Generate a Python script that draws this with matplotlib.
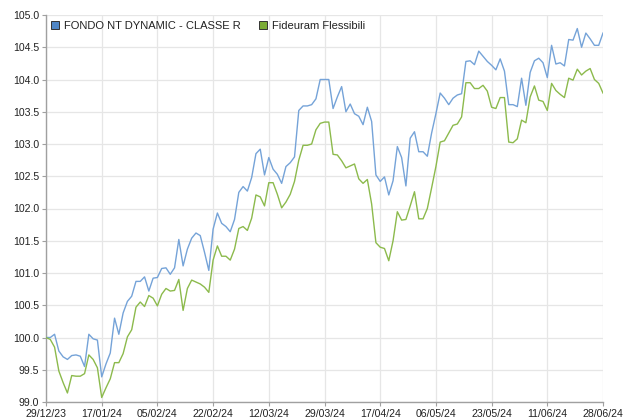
import matplotlib.pyplot as plt
from matplotlib.lines import Line2D
import numpy as np
import pandas as pd

plt.rcParams['font.family'] = ['Liberation Sans', 'DejaVu Sans']

# weekday dates of the series
dates = pd.bdate_range('2023-12-29', '2024-06-28')

fondo_nt = [100.00, 100.00, 100.05, 99.79, 99.70, 99.66, 99.72, 99.73, 99.71, 99.55,
            100.05, 99.98, 99.96, 99.39, 99.59, 99.76, 100.30, 100.05, 100.38, 100.56,
            100.64, 100.87, 100.87, 100.94, 100.72, 100.92, 100.93, 101.07, 101.08, 100.98,
            101.08, 101.52, 101.11, 101.37, 101.54, 101.62, 101.58, 101.32, 101.04, 101.68,
            101.93, 101.77, 101.72, 101.64, 101.83, 102.25, 102.34, 102.27, 102.48, 102.85,
            102.92, 102.52, 102.79, 102.61, 102.53, 102.39, 102.65, 102.71, 102.80, 103.52,
            103.59, 103.59, 103.61, 103.70, 104.00, 104.00, 104.00, 103.55, 103.73, 103.89,
            103.50, 103.62, 103.47, 103.43, 103.30, 103.57, 103.35, 102.52, 102.42, 102.49,
            102.21, 102.43, 102.96, 102.79, 102.35, 103.09, 103.19, 102.88, 102.88, 102.81,
            103.17, 103.47, 103.79, 103.71, 103.61, 103.71, 103.76, 103.78, 104.28, 104.29,
            104.23, 104.44, 104.36, 104.28, 104.22, 104.15, 104.32, 104.13, 103.61, 103.61,
            103.58, 104.02, 103.60, 104.11, 104.29, 104.33, 104.26, 104.03, 104.53, 104.24,
            104.26, 104.21, 104.62, 104.61, 104.79, 104.50, 104.72, 104.63, 104.53, 104.53,
            104.72]

fideuram = [100.00, 99.97, 99.85, 99.48, 99.30, 99.14, 99.41, 99.40, 99.40, 99.44,
            99.73, 99.66, 99.53, 99.07, 99.22, 99.36, 99.61, 99.61, 99.75, 100.01,
            100.12, 100.47, 100.55, 100.48, 100.65, 100.61, 100.49, 100.67, 100.76, 100.72,
            100.73, 100.90, 100.42, 100.76, 100.89, 100.86, 100.83, 100.78, 100.70, 101.20,
            101.42, 101.26, 101.26, 101.20, 101.37, 101.69, 101.72, 101.66, 101.85, 102.21,
            102.18, 102.04, 102.40, 102.40, 102.22, 102.01, 102.10, 102.22, 102.42, 102.75,
            102.98, 102.98, 103.00, 103.22, 103.32, 103.34, 103.34, 102.84, 102.83, 102.74,
            102.63, 102.66, 102.69, 102.46, 102.39, 102.45, 102.07, 101.47, 101.40, 101.38,
            101.19, 101.50, 101.95, 101.82, 101.83, 102.04, 102.26, 101.84, 101.84, 102.00,
            102.32, 102.65, 103.03, 103.05, 103.17, 103.29, 103.31, 103.42, 103.95, 103.95,
            103.86, 103.86, 103.91, 103.82, 103.57, 103.55, 103.72, 103.72, 103.03, 103.02,
            103.08, 103.37, 103.33, 103.73, 103.90, 103.68, 103.66, 103.52, 103.94, 103.83,
            103.77, 103.72, 104.02, 103.99, 104.16, 104.07, 104.13, 104.17, 104.00, 103.94,
            103.79]

nomi = ['FONDO NT DYNAMIC - CLASSE R', 'Fideuram Flessibili']
colori_linea = ['#75a3d8', '#8cba4c']
colori_legenda = ['#4f86c6', '#7aab35']

fig = plt.figure(figsize=(6.36, 4.18), dpi=100)
ax = fig.add_axes([46/636, 1 - 402/418, 557/636, 387/418])

x = np.arange(len(dates))
ax.plot(x, fondo_nt, color=colori_linea[0], lw=1.0, zorder=3)
ax.plot(x, fideuram, color=colori_linea[1], lw=1.0, zorder=3)

ax.set_xlim(0, len(dates) - 1)
ax.set_ylim(99.0, 105.0)
passo = 13
ax.set_xticks(x[::passo])
ax.set_xticklabels([d.strftime('%d/%m/%y') for d in dates[::passo]])
ax.set_yticks(np.arange(99.0, 105.01, 0.5))
ax.set_yticklabels([f'{v:.1f}' for v in np.arange(99.0, 105.01, 0.5)])

ax.grid(True, color='#e6e6e6', lw=0.9, zorder=0)
for lato in ['top', 'right']:
    ax.spines[lato].set_visible(False)
for lato in ['left', 'bottom']:
    ax.spines[lato].set_color('#a0a0a0')
    ax.spines[lato].set_linewidth(1.0)
ax.tick_params(axis='both', labelsize=7.6, labelcolor='#222222', length=3, width=0.8, pad=2)
ax.tick_params(axis='both', color='#a0a0a0')

maniglie = [Line2D([], [], ls='none', marker='s', markersize=5.5,
                   markerfacecolor=c, markeredgecolor='#333333', markeredgewidth=0.7)
            for c in colori_legenda]
ax.legend(maniglie, nomi, loc='upper left', ncol=2, frameon=False, fontsize=8,
          handletextpad=0.3, columnspacing=1.5, bbox_to_anchor=(-0.008, 1.005),
          handlelength=1.0, borderaxespad=0.3, labelcolor='#222222')

fig.savefig('out.png', dpi=100)
